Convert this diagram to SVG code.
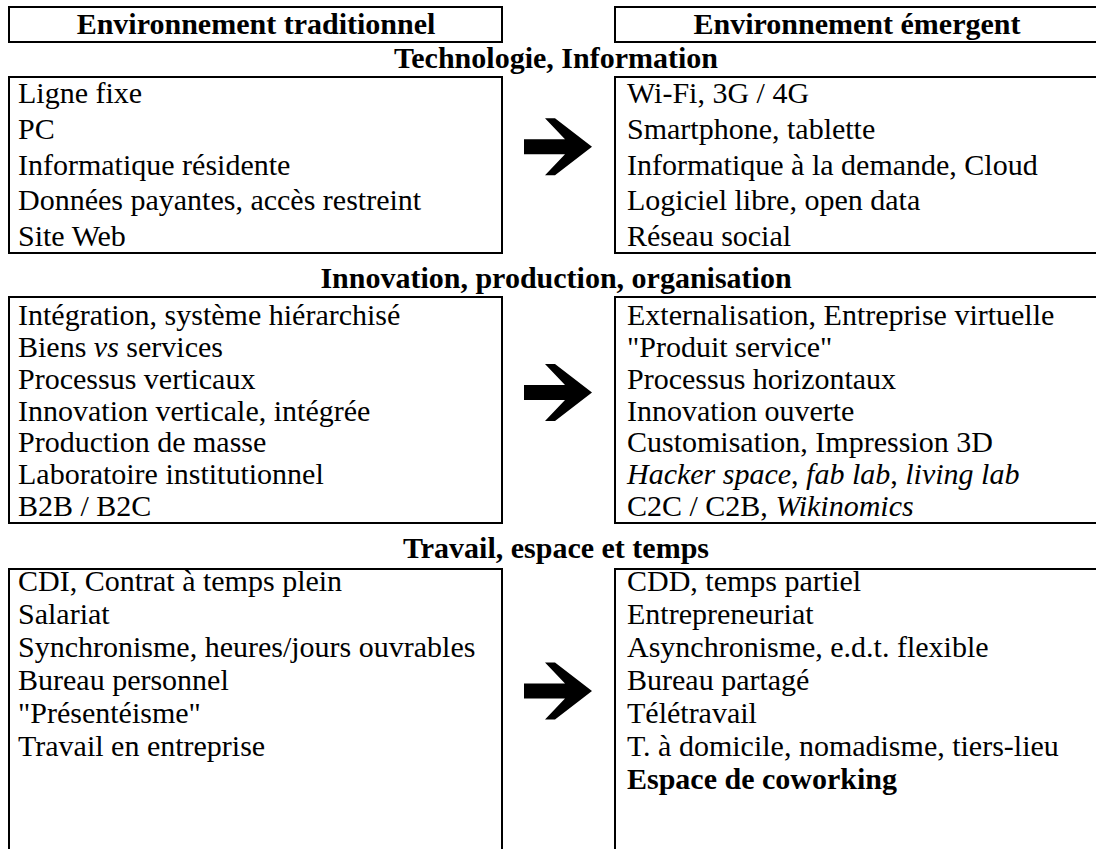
<svg xmlns="http://www.w3.org/2000/svg" width="1096" height="849" viewBox="0 0 1096 849">
<style>
.box{fill:#fff;stroke:#000;stroke-width:2}
.t{font-family:"Times New Roman","Liberation Serif",Tinos,Times,serif;font-size:30px;font-weight:normal;fill:#000}
.h{font-family:"Times New Roman","Liberation Serif",Tinos,Times,serif;font-size:30px;font-weight:bold;fill:#000;text-anchor:middle}
.i{font-style:italic}
</style>
<defs>
<path id="arr" d="M0,-7.5 L41,-7.5 L21,-28.5 L31,-28.5 L68,0 L31,28.5 L21,28.5 L41,7.5 L0,7.5 Z" fill="#000"/>
</defs>
<rect width="1096" height="849" fill="#fff"/>
<g id="header-left"><rect class="box" x="9" y="7" width="493" height="35"/><text class="h" x="256" y="34">Environnement traditionnel</text></g>
<g id="header-right"><rect class="box" x="615" y="7" width="484" height="35"/><text class="h" x="857" y="34">Environnement émergent</text></g>

<g id="title-1"><text class="h" x="556" y="68">Technologie, Information</text></g>
<g id="box-1-left"><rect class="box" x="9" y="77" width="493" height="176"/>
<text class="t"><tspan x="18" y="103">Ligne fixe</tspan><tspan x="18" y="138.75">PC</tspan><tspan x="18" y="174.5">Informatique résidente</tspan><tspan x="18" y="210.25">Données payantes, accès restreint</tspan><tspan x="18" y="246">Site Web</tspan></text></g>
<g id="box-1-right"><rect class="box" x="615" y="77" width="484" height="176"/>
<text class="t"><tspan x="627" y="103">Wi-Fi, 3G / 4G</tspan><tspan x="627" y="138.75">Smartphone, tablette</tspan><tspan x="627" y="174.5">Informatique à la demande, Cloud</tspan><tspan x="627" y="210.25">Logiciel libre, open data</tspan><tspan x="627" y="246">Réseau social</tspan></text></g>

<g id="title-2"><text class="h" x="556" y="288">Innovation, production, organisation</text></g>
<g id="box-2-left"><rect class="box" x="9" y="297" width="493" height="226"/>
<text class="t"><tspan x="18" y="325">Intégration, système hiérarchisé</tspan><tspan x="18" y="356.8">Biens <tspan class="i">vs</tspan> services</tspan><tspan x="18" y="388.7">Processus verticaux</tspan><tspan x="18" y="420.5">Innovation verticale, intégrée</tspan><tspan x="18" y="452.3">Production de masse</tspan><tspan x="18" y="484.2">Laboratoire institutionnel</tspan><tspan x="18" y="516">B2B / B2C</tspan></text></g>
<g id="box-2-right"><rect class="box" x="615" y="297" width="484" height="226"/>
<text class="t"><tspan x="627" y="325">Externalisation, Entreprise virtuelle</tspan><tspan x="627" y="356.8">"Produit service"</tspan><tspan x="627" y="388.7">Processus horizontaux</tspan><tspan x="627" y="420.5">Innovation ouverte</tspan><tspan x="627" y="452.3">Customisation, Impression 3D</tspan><tspan x="627" y="484.2"><tspan class="i">Hacker space</tspan>, <tspan class="i">fab lab</tspan>, <tspan class="i">living lab</tspan></tspan><tspan x="627" y="516">C2C / C2B, <tspan class="i">Wikinomics</tspan></tspan></text></g>

<g id="title-3"><text class="h" x="556" y="558">Travail, espace et temps</text></g>
<g id="box-3-left"><rect class="box" x="9" y="569" width="493" height="300"/>
<text class="t"><tspan x="18" y="591">CDI, Contrat à temps plein</tspan><tspan x="18" y="624">Salariat</tspan><tspan x="18" y="657">Synchronisme, heures/jours ouvrables</tspan><tspan x="18" y="690">Bureau personnel</tspan><tspan x="18" y="723">"Présentéisme"</tspan><tspan x="18" y="756">Travail en entreprise</tspan></text></g>
<g id="box-3-right"><rect class="box" x="615" y="569" width="484" height="300"/>
<text class="t"><tspan x="627" y="591">CDD, temps partiel</tspan><tspan x="627" y="624">Entrepreneuriat</tspan><tspan x="627" y="657">Asynchronisme, e.d.t. flexible</tspan><tspan x="627" y="690">Bureau partagé</tspan><tspan x="627" y="723">Télétravail</tspan><tspan x="627" y="756">T. à domicile, nomadisme, tiers-lieu</tspan><tspan x="627" y="789" font-weight="bold">Espace de coworking</tspan></text></g>

<g id="connectors">
<use href="#arr" x="524" y="146.7"/>
<use href="#arr" x="524" y="392.5"/>
<use href="#arr" x="524" y="691"/>
</g>
</svg>
